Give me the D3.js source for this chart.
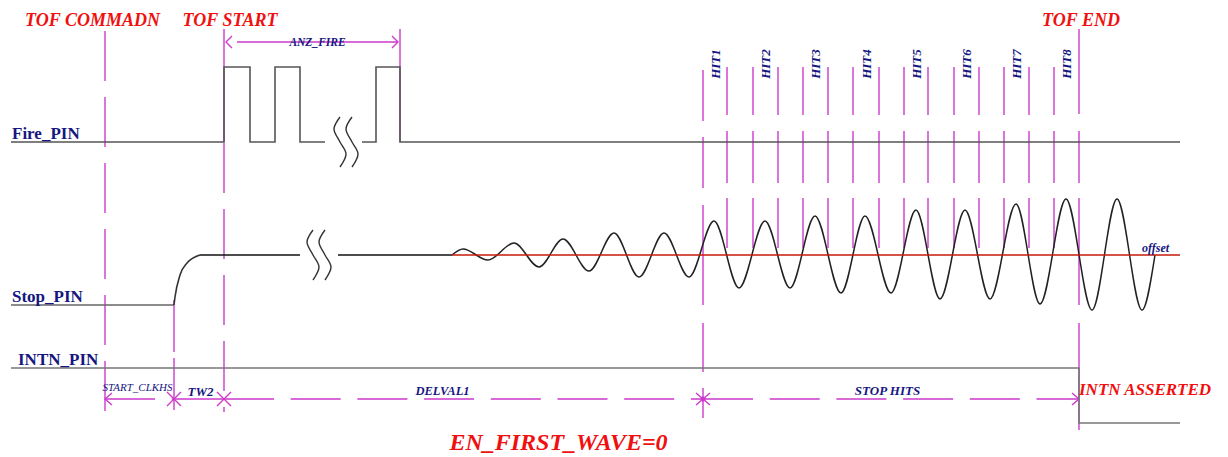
<!DOCTYPE html>
<html>
<head>
<meta charset="utf-8">
<script src="https://cdn.jsdelivr.net/npm/d3@7"></script>
<style>
  body { margin: 0; background: #fff; }
  svg { display: block; }
  text { font-family: "Liberation Serif", "Times New Roman", serif; }
</style>
</head>
<body>
<div id="chart"></div>
<script>
// time axis in arbitrary units, levels
const endT = 1169;

const tofLabels = ["TOF COMMADN", "TOF START", "TOF END"];
const tofT = [94, 213, 1068];
const tofLabelT = [81.5, 219, 1070];

const signalNames = ["Fire_PIN", "Stop_PIN", "INTN_PIN"];

const firePulseRise = [213, 264, 365];
const firePulseFall = [239, 289, 389];
const fireGapT = [314, 351];
const fireBreakT = [329, 341];

const stopClkT = 163;
const stopRiseT = [163, 164, 169, 176, 189];
const stopRiseV = [0, 8, 30, 42, 50];
const stopGapT = [289, 327];
const stopBreakT = [302, 314];
const offsetLevel = 50;

const waveStartT = 441;
const waveT = [452, 477, 503, 528, 552, 578, 603, 628, 653, 678, 703, 728, 754, 779,
  804, 830, 854, 880, 905, 929, 954, 979, 1005, 1029, 1055, 1081, 1106, 1131];
const waveV = [56, 45, 62, 38, 66, 34, 72, 28, 72, 28, 84, 17, 84, 17,
  89, 12, 89, 12, 95, 6, 95, 6, 101, 1, 106, -5, 106, -5];
const waveEndT = 1144;

const hitNames = ["HIT1", "HIT2", "HIT3", "HIT4", "HIT5", "HIT6", "HIT7", "HIT8"];
const hitStartT = [692, 742, 792, 842, 893, 943, 993, 1043];
const hitEndT = [716, 767, 817, 868, 917, 968, 1018, 1068];

const intnDropT = 1068;

const anzLabel = "ANZ_FIRE";
const anzLabelT = 306.5;
const dimLabels = ["START_CLKHS", "TW2", "DELVAL1", "STOP HITS"];
const dimLabelT = [126.5, 189.5, 431.5, 876.5];
const dimBoundsT = [94, 163, 213, 692, 1068];
const assertLabel = "INTN ASSERTED";
const footLabel = "EN_FIRST_WAVE=0";
const footLabelT = 547.5;

const W = 1228, H = 457;
const red = "#f01010", navy = "#16167f", mag = "#cc3acc";

const svg = d3.select("#chart").append("svg")
  .attr("width", W).attr("height", H);

const x = d3.scaleLinear().domain([0, endT]).range([11, 1180]);
const yFire = d3.scaleLinear().domain([0, 1]).range([142, 67]);
const yStop = d3.scaleLinear().domain([0, 50]).range([305, 255]);
const yIntn = d3.scaleLinear().domain([0, 1]).range([423, 368]);
const dimY = 399;

const line = (ys) => d3.line().x(d => x(d[0])).y(d => ys(d[1]));

// ---- magenta marker lines (drawn first, signals go on top)
const markers = svg.append("g").attr("stroke", mag).attr("stroke-width", 1.4).attr("fill", "none");
function vseg(t, spans, dash) {
  spans.forEach(s => {
    markers.append("line")
      .attr("x1", x(t)).attr("x2", x(t))
      .attr("y1", s[0]).attr("y2", s[1])
      .attr("stroke-dasharray", dash || null);
  });
}
vseg(tofT[0], [[31, 411]], "50,16");
vseg(tofT[1], [[29, 142]]);
vseg(tofT[1], [[143, 412]], "50,16");
vseg(firePulseFall[2], [[29, 142]]);
vseg(stopClkT, [[300, 412]], "52,6");
vseg(hitStartT[0], [[70, 121], [137, 188], [205, 305], [323, 372]]);
vseg(tofT[2], [[29, 114], [131, 183], [198, 305], [323, 430]]);
hitStartT.slice(1).forEach(t => vseg(t, [[67, 115], [131, 183], [198, 248]]));
hitEndT.slice(0, -1).forEach(t => vseg(t, [[67, 115], [131, 183], [198, 248]]));

// ANZ_FIRE dimension
markers.append("line").attr("x1", x(tofT[1]) + 13).attr("x2", x(firePulseFall[2]) - 3)
  .attr("y1", 42).attr("y2", 42);
markers.append("path").attr("d", `M${x(tofT[1]) + 8},36 L${x(tofT[1]) + 2},42 L${x(tofT[1]) + 8},48`);
markers.append("path").attr("d", `M${x(firePulseFall[2]) - 8},36 L${x(firePulseFall[2]) - 2},42 L${x(firePulseFall[2]) - 8},48`);

// bottom dimension line
const dimDash = ["50,16.7", null, "50,16.7", "50,16.7"];
dimBoundsT.slice(0, -1).forEach((t, i) => {
  markers.append("line")
    .attr("x1", x(t)).attr("x2", x(dimBoundsT[i + 1]))
    .attr("y1", dimY).attr("y2", dimY)
    .attr("stroke-dasharray", dimDash[i]);
});
const bx0 = x(dimBoundsT[0]), bx4 = x(dimBoundsT[4]);
markers.append("path").attr("d", `M${bx0 + 7},${dimY - 6} L${bx0},${dimY} L${bx0 + 7},${dimY + 6}`);
markers.append("path").attr("d", `M${bx4 - 7},${dimY - 6} L${bx4},${dimY} L${bx4 - 7},${dimY + 6}`);
[dimBoundsT[1], dimBoundsT[2]].forEach(t => {
  const cx = x(t);
  markers.append("path").attr("d", `M${cx - 7},${dimY - 7} L${cx + 7},${dimY + 7} M${cx - 7},${dimY + 7} L${cx + 7},${dimY - 7}`);
});
{
  const cx = x(dimBoundsT[3]);
  markers.append("path").attr("d", `M${cx},${dimY - 11} L${cx},${dimY + 19} M${cx - 7},${dimY - 6} L${cx + 7},${dimY + 6} M${cx - 7},${dimY + 6} L${cx + 7},${dimY - 6}`);
  markers.append("circle").attr("cx", cx).attr("cy", dimY).attr("r", 1.8).attr("fill", mag);
}

// ---- signals
const sig = svg.append("g").attr("fill", "none").attr("stroke-width", 1.6);

// Fire PIN
const firePts = [[0, 0]];
firePulseRise.forEach((r, i) => {
  firePts.push([r, 0], [r, 1], [firePulseFall[i], 1], [firePulseFall[i], 0]);
});
firePts.push([endT, 0]);
const fireA = firePts.filter(p => p[0] <= fireGapT[0]).concat([[fireGapT[0], 0]]);
const fireB = [[fireGapT[1], 0]].concat(firePts.filter(p => p[0] >= fireGapT[1]));
sig.append("path").attr("d", line(yFire)(fireA)).attr("stroke", "#555");
sig.append("path").attr("d", line(yFire)(fireB)).attr("stroke", "#555");

// break marks
const breakShape = [[0, -25], [-6, -13], [0, 0], [6, 12], [0, 25]];
const breakLine = d3.line().curve(d3.curveCatmullRom);
function breakMark(t, cy) {
  sig.append("path")
    .attr("d", breakLine(breakShape.map(p => [x(t) + p[0], cy + p[1]])))
    .attr("stroke", "#333").attr("stroke-width", 1.4);
}
fireBreakT.forEach(t => breakMark(t, yFire(0)));
stopBreakT.forEach(t => breakMark(t, yStop(offsetLevel)));

// Stop PIN
sig.append("path").attr("d", line(yStop)([[0, 0], [stopClkT, 0]])).attr("stroke", "#666");
sig.append("path")
  .attr("d", line(yStop).curve(d3.curveMonotoneX)(stopRiseT.map((t, i) => [t, stopRiseV[i]])))
  .attr("stroke", "#333");
sig.append("path").attr("d", line(yStop)([[stopRiseT[stopRiseT.length - 1], offsetLevel], [stopGapT[0], offsetLevel]])).attr("stroke", "#111");
sig.append("path").attr("d", line(yStop)([[stopGapT[1], offsetLevel], [waveStartT, offsetLevel]])).attr("stroke", "#111");

const wavePts = [[waveStartT, offsetLevel]]
  .concat(waveT.map((t, i) => [t, waveV[i]]))
  .concat([[waveEndT, offsetLevel]]);
sig.append("path")
  .attr("d", line(yStop).curve(d3.curveMonotoneX)(wavePts))
  .attr("stroke", "#222").attr("stroke-width", 1.5);

// offset line
sig.append("line")
  .attr("x1", x(waveStartT)).attr("x2", x(endT))
  .attr("y1", yStop(offsetLevel)).attr("y2", yStop(offsetLevel))
  .attr("stroke", "#c41a0a").attr("stroke-width", 1.3);

// INTN PIN
sig.append("path")
  .attr("d", line(yIntn)([[0, 1], [intnDropT, 1], [intnDropT, 0], [endT, 0]]))
  .attr("stroke", "#777");

// ---- texts
const tofSize = 18;
tofLabels.forEach((s, i) => {
  svg.append("text").text(s)
    .attr("x", x(tofLabelT[i])).attr("y", 26)
    .attr("text-anchor", "middle")
    .attr("font-size", tofSize).attr("font-weight", "bold").attr("font-style", "italic")
    .attr("fill", red);
});

const sigLabelPos = [[12, 139], [12, 302], [18, 365]];
signalNames.forEach((s, i) => {
  svg.append("text").text(s)
    .attr("x", sigLabelPos[i][0]).attr("y", sigLabelPos[i][1])
    .attr("font-size", 17).attr("font-weight", "bold")
    .attr("fill", navy);
});

svg.append("text").text(anzLabel)
  .attr("x", x(anzLabelT)).attr("y", 46)
  .attr("text-anchor", "middle")
  .attr("font-size", 11.5).attr("font-weight", "bold").attr("font-style", "italic")
  .attr("fill", navy);

hitNames.forEach((s, i) => {
  const cx = (x(hitStartT[i]) + x(hitEndT[i])) / 2;
  svg.append("text").text(s)
    .attr("transform", `translate(${cx + 4.5},64) rotate(-90)`)
    .attr("text-anchor", "middle")
    .attr("font-size", 13).attr("font-weight", "bold").attr("font-style", "italic")
    .attr("fill", navy);
});

svg.append("text").text("offset")
  .attr("x", x(waveT[waveT.length - 1]) + 0).attr("y", 252)
  .attr("font-size", 12).attr("font-style", "italic").attr("font-weight", "bold")
  .attr("fill", navy);

const dimSizes = [11, 13, 12.5, 13];
const dimBase = [391, 396, 395, 395];
dimLabels.forEach((s, i) => {
  svg.append("text").text(s)
    .attr("x", x(dimLabelT[i])).attr("y", dimBase[i])
    .attr("text-anchor", "middle")
    .attr("font-size", dimSizes[i]).attr("font-weight", i === 0 ? "normal" : "bold")
    .attr("font-style", "italic")
    .attr("fill", navy);
});

svg.append("text").text(assertLabel)
  .attr("x", x(intnDropT)).attr("y", 395)
  .attr("font-size", 17).attr("font-weight", "bold").attr("font-style", "italic")
  .attr("fill", red);

svg.append("text").text(footLabel)
  .attr("x", x(footLabelT)).attr("y", 450)
  .attr("text-anchor", "middle")
  .attr("font-size", 24).attr("font-weight", "bold").attr("font-style", "italic")
  .attr("fill", red);
</script>
</body>
</html>
